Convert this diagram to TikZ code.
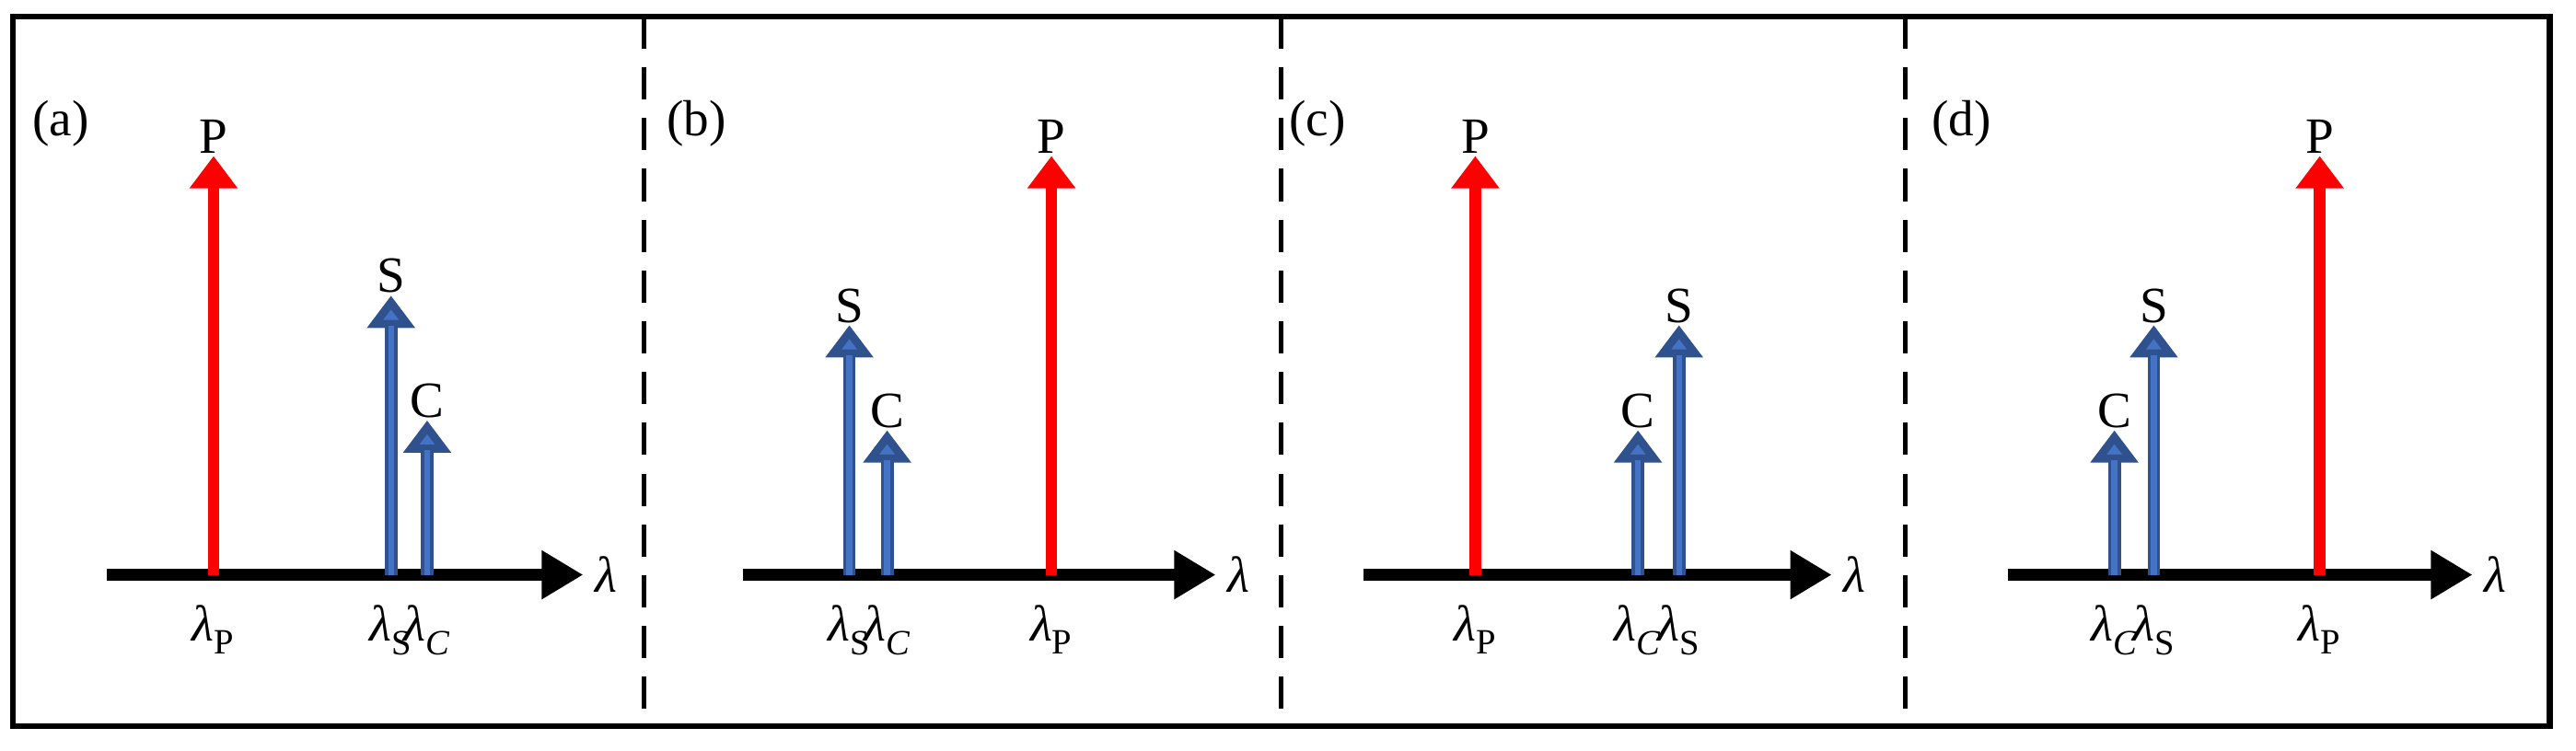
\documentclass[tikz,border=0pt]{standalone}
\usepackage{fontspec}
\setmainfont{Liberation Serif}
\usepackage{tikz}
\usetikzlibrary{arrows.meta, positioning}
\definecolor{PumpRed}{HTML}{FF0000}
\definecolor{SigBlue}{HTML}{4472C4}
\definecolor{SigEdge}{HTML}{2F528F}
\newcommand{\wl}[1]{\textit{λ}\textsubscript{#1}}
\begin{document}
\begin{tikzpicture}[
		x=0.05cm, y=-0.05cm,
		font=\fontsize{44}{52}\selectfont,
		axis/.style={line width=11pt, -{Triangle[length=36pt, width=40pt]}},
		pump/.style={line width=10pt, PumpRed, -{Triangle[length=28pt, width=40pt]}},
		sig/.style={line width=11pt, SigEdge, -{Triangle[length=28pt, width=40pt, fill=SigBlue]}},
		tag/.style={inner sep=2pt},
		sep/.style={line width=4pt, dash pattern=on 28pt off 16pt},
		]
		% frame and separators
		\useasboundingbox (0,0) rectangle (1568,457);
		\draw[line width=5pt] (8,10) rectangle (1552,442);
		\draw[sep] (392,10) -- (392,442);
		\draw[sep] (780,10) -- (780,442);
		\draw[sep] (1160,10) -- (1160,442);
		% panel: {label x / axis start / axis end / P x / S x / C x / S top / C top}
		\foreach \id/\lab/\xa/\xb/\xp/\xs/\xc/\ts/\tc in {
				a/(a)/65/355/130/238/260/180/256,
				b/(b)/452/740/640/517/540/198/262,
				c/(c)/830/1115/898/1022/997/198/262,
				d/(d)/1222/1505/1412/1311/1287/198/262}{
			\node[tag] (lab\id) at (\xa-28,75) {\lab};
			\coordinate (start\id) at (\xa,350);
			\coordinate (end\id) at (\xb,350);
			\coordinate (p\id) at (\xp,350);
			\coordinate (s\id) at (\xs,350);
			\coordinate (c\id) at (\xc,350);
			\coordinate (ptop\id) at (\xp,95);
			\coordinate (stop\id) at (\xs,\ts);
			\coordinate (ctop\id) at (\xc,\tc);
			\node[tag, above=0pt of ptop\id] (pl\id) {P};
			\node[tag, above=0pt of stop\id] (sl\id) {S};
			\node[tag, above=0pt of ctop\id] (cl\id) {C};
			\node[tag, right=8pt of end\id] (ax\id) {\textit{λ}};
			\node[tag, below=24pt of p\id] (lp\id) {\wl{P}};
			\node[tag, below=24pt of s\id] (ls\id) {\wl{S}};
			\node[tag, below=24pt of c\id] (lc\id) {\wl{\textit{C}}};
			\draw[axis] (start\id) -- (end\id);
			\draw[pump] (p\id) -- (ptop\id);
			\draw[sig] (s\id) -- (stop\id);
			\draw[sig] (c\id) -- (ctop\id);
			\draw[line width=5pt, SigBlue, shorten >=26pt] (s\id) -- (stop\id);
			\draw[line width=5pt, SigBlue, shorten >=26pt] (c\id) -- (ctop\id);
		}
\end{tikzpicture}
\end{document}
